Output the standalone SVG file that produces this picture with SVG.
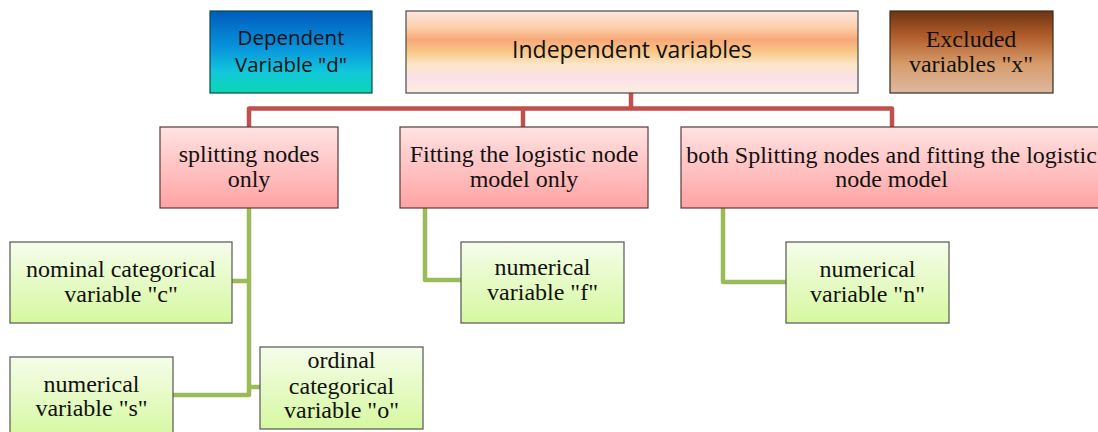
<svg xmlns="http://www.w3.org/2000/svg" width="1098" height="432" viewBox="0 0 1098 432">
  <defs>
    <linearGradient id="gDep" x1="0" y1="0" x2="0" y2="1">
      <stop offset="0" stop-color="#005bbd"/>
      <stop offset="0.45" stop-color="#0894dc"/>
      <stop offset="0.75" stop-color="#12c8da"/>
      <stop offset="1" stop-color="#0cd6b2"/>
    </linearGradient>
    <linearGradient id="gInd" x1="0" y1="0" x2="0" y2="1">
      <stop offset="0" stop-color="#fde6e2"/>
      <stop offset="0.2" stop-color="#fbcfa8"/>
      <stop offset="0.35" stop-color="#f8a878"/>
      <stop offset="0.5" stop-color="#f8c888"/>
      <stop offset="0.65" stop-color="#fde6c8"/>
      <stop offset="0.82" stop-color="#fbe0ea"/>
      <stop offset="1" stop-color="#fdeede"/>
    </linearGradient>
    <linearGradient id="gExc" x1="0" y1="0" x2="0" y2="1">
      <stop offset="0" stop-color="#6a3512"/>
      <stop offset="0.3" stop-color="#b05c2a"/>
      <stop offset="0.65" stop-color="#d79c6a"/>
      <stop offset="1" stop-color="#dcb8a2"/>
    </linearGradient>
    <linearGradient id="gPink" x1="0" y1="0" x2="0" y2="1">
      <stop offset="0" stop-color="#ffe2e2"/>
      <stop offset="1" stop-color="#ffa3a3"/>
    </linearGradient>
    <linearGradient id="gGreen" x1="0" y1="0" x2="0" y2="1">
      <stop offset="0" stop-color="#f5fdea"/>
      <stop offset="1" stop-color="#d6f8a0"/>
    </linearGradient>
  </defs>
  <style>
    .sans { font-family: "Open Sans", "Noto Sans", sans-serif; fill: #111; text-anchor: middle; }
    .serif { font-family: "Liberation Serif", "Times New Roman", serif; font-size: 24px; fill: #111; text-anchor: middle; }
    .box { stroke: #4a4a4a; stroke-width: 1.2; }
    .pink { fill: url(#gPink); stroke: #5a3a3a; stroke-width: 1.2; }
    .green { fill: url(#gGreen); stroke: #555; stroke-width: 1.2; }
    .red { fill: none; stroke: #c0504d; stroke-width: 4.5; stroke-linejoin: round; }
    .grn { fill: none; stroke: #9bbb59; stroke-width: 4.5; stroke-linejoin: round; }
  </style>

  <!-- connectors -->
  <g id="connectors">
    <path class="red" d="M631 93 V108.5 H249 V127"/>
    <path class="red" d="M523 108.5 V127"/>
    <path class="red" d="M631 108.5 H892 V127"/>
    <path class="grn" d="M249 208 V395 H173"/>
    <path class="grn" d="M249 281 H232"/>
    <path class="grn" d="M249 387 H260"/>
    <path class="grn" d="M425 208 V280 H461"/>
    <path class="grn" d="M723 208 V282 H786"/>
  </g>

  <!-- top row -->
  <g id="dependent">
    <rect x="210" y="11" width="162" height="82" fill="url(#gDep)" stroke="#0d4a48" stroke-width="1.2"/>
    <text class="sans" font-size="20.5" x="291" y="45">Dependent</text>
    <text class="sans" font-size="20.5" x="291" y="72">Variable "d"</text>
  </g>
  <g id="independent">
    <rect class="box" x="406" y="11" width="452" height="82" fill="url(#gInd)"/>
    <text class="sans" font-size="23" x="632" y="58">Independent variables</text>
  </g>
  <g id="excluded">
    <rect x="890" y="11" width="163" height="82" fill="url(#gExc)" stroke="#3a2a1a" stroke-width="1.2"/>
    <text class="serif" x="971" y="47">Excluded</text>
    <text class="serif" x="971" y="72">variables "x"</text>
  </g>

  <!-- second row -->
  <g id="splitting">
    <rect class="pink" x="160" y="127" width="178" height="81"/>
    <text class="serif" x="249" y="162">splitting nodes</text>
    <text class="serif" x="249" y="187">only</text>
  </g>
  <g id="fitting">
    <rect class="pink" x="400" y="127" width="248" height="81"/>
    <text class="serif" x="524" y="162">Fitting the logistic node</text>
    <text class="serif" x="524" y="187">model only</text>
  </g>
  <g id="both">
    <rect class="pink" x="681" y="127" width="422" height="81"/>
    <text class="serif" x="891.5" y="163">both Splitting nodes and fitting the logistic</text>
    <text class="serif" x="891.5" y="187">node model</text>
  </g>

  <!-- leaves -->
  <g id="nominal">
    <rect class="green" x="10" y="242" width="222" height="81"/>
    <text class="serif" x="121" y="277">nominal categorical</text>
    <text class="serif" x="121" y="302">variable "c"</text>
  </g>
  <g id="numerical-s">
    <rect class="green" x="10" y="357" width="163" height="81"/>
    <text class="serif" x="91.5" y="392">numerical</text>
    <text class="serif" x="91.5" y="416">variable "s"</text>
  </g>
  <g id="ordinal">
    <rect class="green" x="260" y="347" width="163" height="82"/>
    <text class="serif" x="341.5" y="368">ordinal</text>
    <text class="serif" x="341.5" y="393.5">categorical</text>
    <text class="serif" x="341.5" y="418">variable "o"</text>
  </g>
  <g id="numerical-f">
    <rect class="green" x="461" y="242" width="163" height="81"/>
    <text class="serif" x="542.5" y="275">numerical</text>
    <text class="serif" x="542.5" y="300">variable "f"</text>
  </g>
  <g id="numerical-n">
    <rect class="green" x="786" y="242" width="163" height="81"/>
    <text class="serif" x="867.5" y="277">numerical</text>
    <text class="serif" x="867.5" y="302">variable "n"</text>
  </g>
</svg>
